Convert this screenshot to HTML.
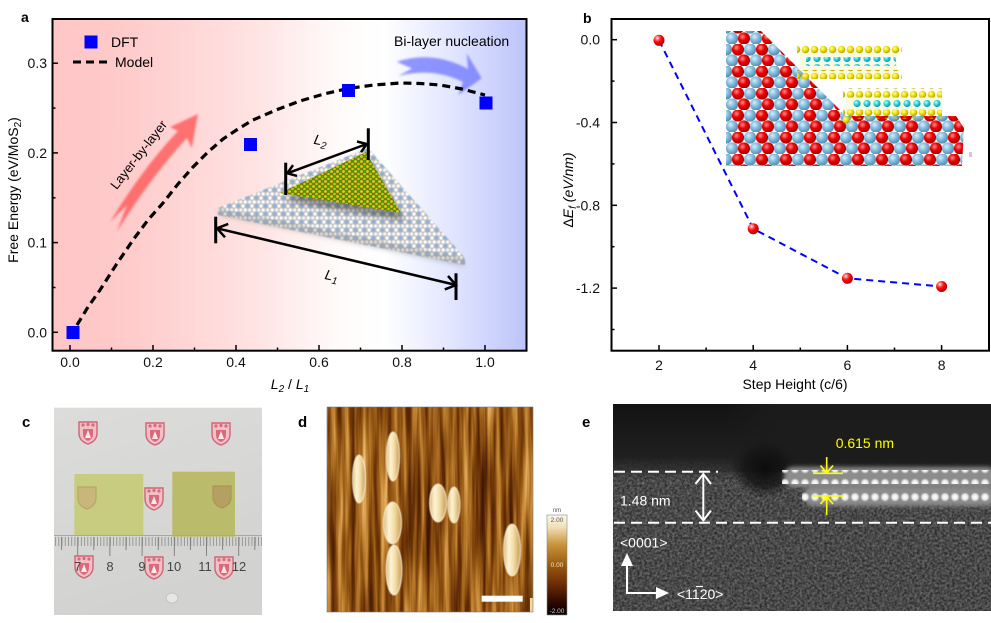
<!DOCTYPE html>
<html><head><meta charset="utf-8"><style>
html,body{margin:0;padding:0;background:#fff;}
svg{display:block;}
text{font-family:"Liberation Sans",Arial,sans-serif;}
</style></head><body>
<svg width="991" height="623" viewBox="0 0 991 623" xmlns="http://www.w3.org/2000/svg">
<defs>
 <linearGradient id="gA" x1="0" y1="0" x2="1" y2="0">
  <stop offset="0" stop-color="#ffc6c6"/>
  <stop offset="0.15" stop-color="#ffcaca"/>
  <stop offset="0.42" stop-color="#ffe2e2"/>
  <stop offset="0.6" stop-color="#fffafa"/>
  <stop offset="0.7" stop-color="#ffffff"/>
  <stop offset="0.84" stop-color="#e2e6ff"/>
  <stop offset="1" stop-color="#bcc4fb"/>
 </linearGradient>
 <radialGradient id="rs" cx="0.35" cy="0.3" r="0.7">
  <stop offset="0" stop-color="#ffffff"/><stop offset="0.18" stop-color="#ff8a8a"/>
  <stop offset="0.5" stop-color="#ff0a0a"/><stop offset="1" stop-color="#b00000"/>
 </radialGradient>
 <radialGradient id="rb" cx="0.38" cy="0.35" r="0.7">
  <stop offset="0" stop-color="#d8eefa"/><stop offset="0.45" stop-color="#86bde0"/><stop offset="1" stop-color="#4a86ac"/>
 </radialGradient>
 <radialGradient id="rr" cx="0.38" cy="0.35" r="0.7">
  <stop offset="0" stop-color="#ff8a8a"/><stop offset="0.45" stop-color="#e80000"/><stop offset="1" stop-color="#a00000"/>
 </radialGradient>
 <radialGradient id="ry" cx="0.38" cy="0.35" r="0.7">
  <stop offset="0" stop-color="#ffffa0"/><stop offset="0.5" stop-color="#eedc00"/><stop offset="1" stop-color="#a89800"/>
 </radialGradient>
 <radialGradient id="rc" cx="0.38" cy="0.35" r="0.7">
  <stop offset="0" stop-color="#c0ffff"/><stop offset="0.5" stop-color="#20d0e0"/><stop offset="1" stop-color="#108c98"/>
 </radialGradient>
 <radialGradient id="rw" cx="0.5" cy="0.5" r="0.5">
  <stop offset="0" stop-color="#ffffff"/><stop offset="0.55" stop-color="#eeeeee" stop-opacity="0.95"/><stop offset="1" stop-color="#cccccc" stop-opacity="0"/>
 </radialGradient>
 <radialGradient id="shadowE" cx="0.5" cy="0.5" r="0.5">
  <stop offset="0" stop-color="#0c0c0c"/><stop offset="0.6" stop-color="#141414" stop-opacity="0.8"/><stop offset="1" stop-color="#1a1a1a" stop-opacity="0"/>
 </radialGradient>
 <linearGradient id="cbar" x1="0" y1="0" x2="0" y2="1">
  <stop offset="0" stop-color="#fdf8ee"/><stop offset="0.12" stop-color="#f0e0b8"/>
  <stop offset="0.3" stop-color="#c8923a"/><stop offset="0.5" stop-color="#9a5a10"/>
  <stop offset="0.7" stop-color="#6a2a05"/><stop offset="0.88" stop-color="#2a0800"/><stop offset="1" stop-color="#000"/>
 </linearGradient>
 <linearGradient id="temTop" x1="0" y1="0" x2="0" y2="1">
  <stop offset="0" stop-color="#121212"/><stop offset="0.7" stop-color="#202020"/><stop offset="0.88" stop-color="#2a2a2a" stop-opacity="0.7"/><stop offset="1" stop-color="#333" stop-opacity="0"/>
 </linearGradient>
 <linearGradient id="temTopR" x1="0" y1="0" x2="1" y2="0">
  <stop offset="0" stop-color="#1c1c1c" stop-opacity="0"/><stop offset="0.2" stop-color="#1c1c1c" stop-opacity="0.9"/><stop offset="1" stop-color="#1c1c1c" stop-opacity="0.9"/>
 </linearGradient>
 <linearGradient id="photoBg" x1="0" y1="0" x2="0.3" y2="1">
  <stop offset="0" stop-color="#dcdcdb"/><stop offset="1" stop-color="#d2d2d0"/>
 </linearGradient>
 <linearGradient id="isl" x1="0" y1="0" x2="1" y2="0">
  <stop offset="0" stop-color="#d8b870"/><stop offset="0.3" stop-color="#fff4d8"/><stop offset="0.6" stop-color="#f2dca4"/><stop offset="1" stop-color="#c89a50"/>
 </linearGradient>

 <pattern id="subs" x="0" y="0" width="24" height="22" patternUnits="userSpaceOnUse">
  <circle cx="6" cy="5.5" r="6.1" fill="url(#rb)"/><circle cx="18" cy="5.5" r="6.1" fill="url(#rr)"/>
  <circle cx="0" cy="16.5" r="6.1" fill="url(#rr)"/><circle cx="12" cy="16.5" r="6.1" fill="url(#rb)"/><circle cx="24" cy="16.5" r="6.1" fill="url(#rr)"/>
 </pattern>
 <pattern id="yrow" x="0" y="0" width="9" height="9" patternUnits="userSpaceOnUse">
  <circle cx="4.5" cy="4.5" r="3.8" fill="url(#ry)"/>
 </pattern>
 <pattern id="crow" x="2" y="0" width="10" height="9" patternUnits="userSpaceOnUse">
  <circle cx="5" cy="4.5" r="3.6" fill="url(#rc)"/>
 </pattern>
 <pattern id="latW" x="0" y="0" width="9" height="8" patternUnits="userSpaceOnUse">
  <circle cx="2.2" cy="2" r="1.7" fill="#fff"/><circle cx="6.7" cy="2" r="1.7" fill="#f6f6f6"/>
  <circle cx="4.5" cy="6" r="1.5" fill="#7ab0f0"/><circle cx="0" cy="6" r="1.7" fill="#fff"/><circle cx="9" cy="6" r="1.7" fill="#fff"/>
 </pattern>
 <pattern id="latY" x="0" y="0" width="6" height="5" patternUnits="userSpaceOnUse">
  <circle cx="1.5" cy="1.5" r="1.4" fill="#e8d000"/><circle cx="4.5" cy="4" r="1.3" fill="#dcc400"/>
  <circle cx="4.5" cy="1.3" r="1.1" fill="#2ca82c"/>
 </pattern>
 <pattern id="ruler" x="77.7" y="0" width="3.22" height="20" patternUnits="userSpaceOnUse">
  <rect x="0" y="0" width="0.8" height="20" fill="#8a8a8a"/>
 </pattern>
 <pattern id="temdots" x="0" y="0" width="10" height="14" patternUnits="userSpaceOnUse">
  <circle cx="5" cy="7" r="5" fill="url(#rw)"/>
 </pattern>

 <filter id="b1" x="-20%" y="-20%" width="140%" height="140%"><feGaussianBlur stdDeviation="1"/></filter>
 <filter id="b06" x="-20%" y="-20%" width="140%" height="140%"><feGaussianBlur stdDeviation="0.6"/></filter>
 <filter id="b2" x="-30%" y="-30%" width="160%" height="160%"><feGaussianBlur stdDeviation="2"/></filter>
 <filter id="b3" x="-30%" y="-30%" width="160%" height="160%"><feGaussianBlur stdDeviation="3"/></filter>
 <filter id="afm" x="0" y="0" width="100%" height="100%" color-interpolation-filters="sRGB">
  <feTurbulence type="fractalNoise" baseFrequency="0.16 0.007" numOctaves="3" seed="7" result="n"/>
  <feColorMatrix in="n" type="matrix" values="1 0 0 0 0  1 0 0 0 0  1 0 0 0 0  0 0 0 0 1"/>
  <feComponentTransfer>
   <feFuncR type="table" tableValues="0.2 0.26 0.4 0.58 0.76 0.9 1"/>
   <feFuncG type="table" tableValues="0.05 0.1 0.19 0.34 0.52 0.7 0.9"/>
   <feFuncB type="table" tableValues="0 0 0.03 0.08 0.2 0.4 0.7"/>
  </feComponentTransfer>
 </filter>
 <filter id="tn" x="0" y="0" width="100%" height="100%" color-interpolation-filters="sRGB">
  <feTurbulence type="fractalNoise" baseFrequency="0.4" numOctaves="2" seed="5"/>
  <feColorMatrix type="matrix" values="0.5 0 0 0 0.04  0.5 0 0 0 0.04  0.5 0 0 0 0.04  0 0 0 0 1"/>
 </filter>
 <clipPath id="clipA"><rect x="52.5" y="19" width="474" height="331.7"/></clipPath>
 <clipPath id="clipE"><rect x="613" y="404" width="378" height="207"/></clipPath>
 <clipPath id="clipD"><rect x="327" y="407" width="206" height="205"/></clipPath>
</defs>

<rect x="0" y="0" width="991" height="623" fill="#fff"/>

<!-- ================= PANEL A ================= -->
<rect x="52.5" y="19" width="474" height="331.7" fill="url(#gA)"/>
<g clip-path="url(#clipA)">
 <path d="M198,114 L170,127 L178,131 Q143,168 110,222 L127,205 L116.7,232 Q150,178 187,138 L191.7,148.3 Z" fill="#ff5050" fill-opacity="0.75" filter="url(#b1)"/>
 <path d="M396.7,61.7 Q433,50 468,69 L466.7,53.3 L481.7,78.3 L458.3,95 L463,82 Q433,67 398.3,76 L412,68.5 Z" fill="#6c76ff" fill-opacity="0.75" filter="url(#b1)"/>
 <polygon points="218,214 368,154 466,266" fill="#777" opacity="0.45" filter="url(#b3)"/>
 <g filter="url(#b06)">
  <polygon points="218,208 465,258 465,265 218,215" fill="#a4a4a4"/>
  <polygon points="218,208 368,148 465,258" fill="#b6b6b6"/>
  <polygon points="218,208 368,148 465,258" fill="url(#latW)"/>
  <polygon points="218,208 465,258 465,265 218,215" fill="url(#latW)" opacity="0.6"/>
 </g>
 <polygon points="284,201 368,160 405,221" fill="#333" opacity="0.5" filter="url(#b3)"/>
 <polygon points="280,193 366,152 401,213" fill="#6e7c14"/>
 <polygon points="280,193 366,152 401,213" fill="url(#latY)"/>
</g>
<g stroke="#000" fill="none" stroke-linecap="butt">
 <line x1="285.7" y1="162.7" x2="285.7" y2="195" stroke-width="3"/>
 <line x1="368.3" y1="128.3" x2="368.3" y2="160" stroke-width="3"/>
 <line x1="287.3" y1="173.3" x2="366.7" y2="144" stroke-width="2.5"/>
 <polyline points="297,175.9 287.3,173.3 293,165.1" stroke-width="2.5"/>
 <polyline points="357,141.5 366.7,144 361,152.2" stroke-width="2.5"/>
 <line x1="215.7" y1="216.7" x2="215.7" y2="243.3" stroke-width="3"/>
 <line x1="456" y1="273.3" x2="456" y2="300" stroke-width="3"/>
 <line x1="217" y1="228.3" x2="456" y2="285" stroke-width="2.5"/>
 <polyline points="225,237.3 217,228.3 228.2,223.9" stroke-width="2.5"/>
 <polyline points="448,276 456,285 444.8,289.4" stroke-width="2.5"/>
</g>
<text x="314" y="145" font-size="14" font-style="italic" transform="rotate(12 320 140)">L<tspan font-size="10" dy="3">2</tspan></text>
<text x="325" y="280" font-size="14" font-style="italic" transform="rotate(12 330 275)">L<tspan font-size="10" dy="3">1</tspan></text>
<text x="139" y="159" font-size="13" text-anchor="middle" transform="rotate(-52 139 155)">Layer-by-layer</text>
<text x="394" y="46" font-size="14">Bi-layer nucleation</text>

<polyline points="77,325 88,307 100,290 116,265 133,240 148,220 163,203 178,184 193,167 208,152 223,139 238,129 253,120 276,110 300,101 324,94 348,88.5 374,85 400,83 420,83.5 440,85 462,89 485,95" fill="none" stroke="#000" stroke-width="3.2" stroke-dasharray="8 5"/>
<g fill="#0000ff">
 <rect x="66.5" y="326" width="13" height="13"/>
 <rect x="244" y="138" width="13" height="13"/>
 <rect x="342" y="84" width="13" height="13"/>
 <rect x="479.5" y="96.5" width="13" height="13"/>
 <rect x="84.5" y="35.5" width="13" height="13"/>
</g>
<line x1="73" y1="62" x2="111" y2="62" stroke="#000" stroke-width="3" stroke-dasharray="8 5"/>
<text x="111" y="47" font-size="14">DFT</text>
<text x="115" y="67" font-size="14">Model</text>

<rect x="52.5" y="19" width="474" height="331.7" fill="none" stroke="#000" stroke-width="2"/>
<g stroke="#000" stroke-width="1.5">
 <line x1="52.5" y1="332.3" x2="58" y2="332.3"/><line x1="52.5" y1="242.6" x2="58" y2="242.6"/>
 <line x1="52.5" y1="152.9" x2="58" y2="152.9"/><line x1="52.5" y1="63.2" x2="58" y2="63.2"/>
 <line x1="52.5" y1="287.5" x2="55.5" y2="287.5"/><line x1="52.5" y1="197.8" x2="55.5" y2="197.8"/>
 <line x1="52.5" y1="108.1" x2="55.5" y2="108.1"/>
 <line x1="70" y1="350.7" x2="70" y2="345"/><line x1="153" y1="350.7" x2="153" y2="345"/>
 <line x1="236" y1="350.7" x2="236" y2="345"/><line x1="319" y1="350.7" x2="319" y2="345"/>
 <line x1="402" y1="350.7" x2="402" y2="345"/><line x1="485" y1="350.7" x2="485" y2="345"/>
 <line x1="111.5" y1="350.7" x2="111.5" y2="347.5"/><line x1="194.5" y1="350.7" x2="194.5" y2="347.5"/>
 <line x1="277.5" y1="350.7" x2="277.5" y2="347.5"/><line x1="360.5" y1="350.7" x2="360.5" y2="347.5"/>
 <line x1="443.5" y1="350.7" x2="443.5" y2="347.5"/>
</g>
<g font-size="14" fill="#111" text-anchor="end">
 <text x="47" y="337.3">0.0</text><text x="47" y="247.6">0.1</text>
 <text x="47" y="157.9">0.2</text><text x="47" y="68.2">0.3</text>
</g>
<g font-size="14" fill="#111" text-anchor="middle">
 <text x="70" y="367">0.0</text><text x="153" y="367">0.2</text><text x="236" y="367">0.4</text>
 <text x="319" y="367">0.6</text><text x="402" y="367">0.8</text><text x="485" y="367">1.0</text>
</g>
<text x="290" y="389" font-size="14" text-anchor="middle" font-style="italic">L<tspan font-size="10" dy="3">2</tspan><tspan dy="-3" font-style="normal"> / </tspan>L<tspan font-size="10" dy="3">1</tspan></text>
<text x="0" y="0" font-size="14" text-anchor="middle" transform="translate(18 190) rotate(-90)">Free Energy (eV/MoS<tspan font-size="10" dy="3">2</tspan><tspan dy="-3">)</tspan></text>
<text x="21" y="22" font-size="14" font-weight="bold">a</text>

<!-- ================= PANEL B ================= -->
<polygon points="726,31 761,31 846,116 956,116 964,128 962,166 726,166" fill="url(#subs)"/>
<g>
 <polygon points="800,52 897,52 897,76 800,76" fill="#e8e070" opacity="0.2"/>
 <rect x="797" y="44.5" width="105" height="9" fill="url(#yrow)"/>
 <rect x="806" y="57" width="90" height="9" fill="url(#crow)"/>
 <rect x="797" y="70" width="105" height="9" fill="url(#yrow)"/>
</g>
<g>
 <polygon points="846,95 942,95 942,114 846,114" fill="#e8e070" opacity="0.2"/>
 <rect x="843" y="88.5" width="99" height="9" fill="url(#yrow)"/>
 <rect x="852" y="100" width="90" height="9" fill="url(#crow)"/>
 <rect x="843" y="109.5" width="99" height="9" fill="url(#yrow)"/>
 <circle cx="846" cy="120" r="3.6" fill="url(#ry)"/>
</g>
<rect x="969" y="152" width="3" height="5" fill="#d8a0e0" opacity="0.7"/>

<polyline points="659,40.3 753.2,228.7 847.4,278.3 941.6,286.5" fill="none" stroke="#0000ff" stroke-width="2" stroke-dasharray="7 5"/>
<g>
 <circle cx="659" cy="40.3" r="5.5" fill="url(#rs)"/>
 <circle cx="753.2" cy="228.7" r="5.5" fill="url(#rs)"/>
 <circle cx="847.4" cy="278.3" r="5.5" fill="url(#rs)"/>
 <circle cx="941.6" cy="286.5" r="5.5" fill="url(#rs)"/>
</g>
<rect x="611.5" y="19" width="377.5" height="331.7" fill="none" stroke="#000" stroke-width="2"/>
<g stroke="#000" stroke-width="1.5">
 <line x1="611.5" y1="39.7" x2="617" y2="39.7"/><line x1="611.5" y1="122.5" x2="617" y2="122.5"/>
 <line x1="611.5" y1="205.3" x2="617" y2="205.3"/><line x1="611.5" y1="288.1" x2="617" y2="288.1"/>
 <line x1="611.5" y1="81.1" x2="614.5" y2="81.1"/><line x1="611.5" y1="163.9" x2="614.5" y2="163.9"/>
 <line x1="611.5" y1="246.7" x2="614.5" y2="246.7"/><line x1="611.5" y1="329.5" x2="614.5" y2="329.5"/>
 <line x1="659" y1="350.7" x2="659" y2="345"/><line x1="753.2" y1="350.7" x2="753.2" y2="345"/>
 <line x1="847.4" y1="350.7" x2="847.4" y2="345"/><line x1="941.6" y1="350.7" x2="941.6" y2="345"/>
 <line x1="706.1" y1="350.7" x2="706.1" y2="347.5"/><line x1="800.3" y1="350.7" x2="800.3" y2="347.5"/>
 <line x1="894.5" y1="350.7" x2="894.5" y2="347.5"/>
</g>
<g font-size="14" fill="#111" text-anchor="end">
 <text x="600" y="44.7">0.0</text><text x="600" y="127.5">-0.4</text>
 <text x="600" y="210.3">-0.8</text><text x="600" y="293.1">-1.2</text>
</g>
<g font-size="14" fill="#111" text-anchor="middle">
 <text x="659" y="370">2</text><text x="753.2" y="370">4</text><text x="847.4" y="370">6</text><text x="941.6" y="370">8</text>
</g>
<text x="795" y="389" font-size="14" text-anchor="middle">Step Height (c/6)</text>
<text x="0" y="0" font-size="14" text-anchor="middle" font-style="italic" transform="translate(573 190) rotate(-90)"><tspan font-style="normal">Δ</tspan>E<tspan font-size="10" dy="3">f</tspan><tspan dy="-3"> (eV/nm)</tspan></text>
<text x="583" y="23" font-size="14" font-weight="bold">b</text>

<!-- ================= PANEL C ================= -->
<text x="22" y="427" font-size="15" font-weight="bold">c</text>
<rect x="54" y="407.7" width="208" height="207.3" fill="url(#photoBg)"/>
<g>
 <g transform="translate(88 432)"><path d="M-9,-10 L9,-10 L9,1 Q9,9 0,12 Q-9,9 -9,1 Z" fill="#f0c0c6" stroke="#d06474" stroke-width="1.4"/><path d="M-5,-3 L5,-3 L5,2 Q5,7 0,9 Q-5,7 -5,2 Z" fill="#d86a7a"/><path d="M0,-2 L3,6 L-3,6 Z" fill="#fbe8ea"/><circle cx="-5" cy="-7" r="1.6" fill="#d86a7a"/><circle cx="0" cy="-7.5" r="1.6" fill="#d86a7a"/><circle cx="5" cy="-7" r="1.6" fill="#d86a7a"/></g>
 <g transform="translate(155 433)"><path d="M-9,-10 L9,-10 L9,1 Q9,9 0,12 Q-9,9 -9,1 Z" fill="#f0c0c6" stroke="#d06474" stroke-width="1.4"/><path d="M-5,-3 L5,-3 L5,2 Q5,7 0,9 Q-5,7 -5,2 Z" fill="#d86a7a"/><path d="M0,-2 L3,6 L-3,6 Z" fill="#fbe8ea"/><circle cx="-5" cy="-7" r="1.6" fill="#d86a7a"/><circle cx="0" cy="-7.5" r="1.6" fill="#d86a7a"/><circle cx="5" cy="-7" r="1.6" fill="#d86a7a"/></g>
 <g transform="translate(221 433)"><path d="M-9,-10 L9,-10 L9,1 Q9,9 0,12 Q-9,9 -9,1 Z" fill="#f0c0c6" stroke="#d06474" stroke-width="1.4"/><path d="M-5,-3 L5,-3 L5,2 Q5,7 0,9 Q-5,7 -5,2 Z" fill="#d86a7a"/><path d="M0,-2 L3,6 L-3,6 Z" fill="#fbe8ea"/><circle cx="-5" cy="-7" r="1.6" fill="#d86a7a"/><circle cx="0" cy="-7.5" r="1.6" fill="#d86a7a"/><circle cx="5" cy="-7" r="1.6" fill="#d86a7a"/></g>
 <g transform="translate(154 498)"><path d="M-9,-10 L9,-10 L9,1 Q9,9 0,12 Q-9,9 -9,1 Z" fill="#f0c0c6" stroke="#d06474" stroke-width="1.4"/><path d="M-5,-3 L5,-3 L5,2 Q5,7 0,9 Q-5,7 -5,2 Z" fill="#d86a7a"/><path d="M0,-2 L3,6 L-3,6 Z" fill="#fbe8ea"/><circle cx="-5" cy="-7" r="1.6" fill="#d86a7a"/><circle cx="0" cy="-7.5" r="1.6" fill="#d86a7a"/><circle cx="5" cy="-7" r="1.6" fill="#d86a7a"/></g>
</g>
<rect x="74.3" y="474" width="69" height="61" fill="#c8cc80"/>
<rect x="172.3" y="471.7" width="62.7" height="65" fill="#bbbb6c"/>
<g opacity="0.35">
 <g transform="translate(87 497)"><path d="M-9,-10 L9,-10 L9,1 Q9,9 0,12 Q-9,9 -9,1 Z" fill="#c89070" stroke="#a06040" stroke-width="1.2"/></g>
 <g transform="translate(222 496)"><path d="M-9,-10 L9,-10 L9,1 Q9,9 0,12 Q-9,9 -9,1 Z" fill="#a87050" stroke="#905030" stroke-width="1.2"/></g>
</g>
<line x1="54" y1="535.5" x2="262" y2="535.5" stroke="#a8a8a8" stroke-width="1"/>
<rect x="54" y="537" width="208" height="9" fill="url(#ruler)"/>
<g stroke="#7a7a7a" stroke-width="0.9">
 <line x1="77.7" y1="537" x2="77.7" y2="556"/><line x1="109.9" y1="537" x2="109.9" y2="556"/>
 <line x1="142.1" y1="537" x2="142.1" y2="556"/><line x1="174.3" y1="537" x2="174.3" y2="556"/>
 <line x1="206.5" y1="537" x2="206.5" y2="556"/><line x1="238.7" y1="537" x2="238.7" y2="556"/>
 <line x1="93.8" y1="537" x2="93.8" y2="550"/><line x1="126" y1="537" x2="126" y2="550"/>
 <line x1="158.2" y1="537" x2="158.2" y2="550"/><line x1="190.4" y1="537" x2="190.4" y2="550"/>
 <line x1="222.6" y1="537" x2="222.6" y2="550"/><line x1="61.6" y1="537" x2="61.6" y2="550"/>
 <line x1="254.8" y1="537" x2="254.8" y2="550"/>
</g>
<g>
 <g transform="translate(84 566)"><path d="M-9,-10 L9,-10 L9,1 Q9,9 0,12 Q-9,9 -9,1 Z" fill="#f0c0c6" stroke="#d06474" stroke-width="1.4"/><path d="M-5,-3 L5,-3 L5,2 Q5,7 0,9 Q-5,7 -5,2 Z" fill="#d86a7a"/><path d="M0,-2 L3,6 L-3,6 Z" fill="#fbe8ea"/><circle cx="-5" cy="-7" r="1.6" fill="#d86a7a"/><circle cx="0" cy="-7.5" r="1.6" fill="#d86a7a"/><circle cx="5" cy="-7" r="1.6" fill="#d86a7a"/></g>
 <g transform="translate(154 567)"><path d="M-9,-10 L9,-10 L9,1 Q9,9 0,12 Q-9,9 -9,1 Z" fill="#f0c0c6" stroke="#d06474" stroke-width="1.4"/><path d="M-5,-3 L5,-3 L5,2 Q5,7 0,9 Q-5,7 -5,2 Z" fill="#d86a7a"/><path d="M0,-2 L3,6 L-3,6 Z" fill="#fbe8ea"/><circle cx="-5" cy="-7" r="1.6" fill="#d86a7a"/><circle cx="0" cy="-7.5" r="1.6" fill="#d86a7a"/><circle cx="5" cy="-7" r="1.6" fill="#d86a7a"/></g>
 <g transform="translate(224 567)"><path d="M-9,-10 L9,-10 L9,1 Q9,9 0,12 Q-9,9 -9,1 Z" fill="#f0c0c6" stroke="#d06474" stroke-width="1.4"/><path d="M-5,-3 L5,-3 L5,2 Q5,7 0,9 Q-5,7 -5,2 Z" fill="#d86a7a"/><path d="M0,-2 L3,6 L-3,6 Z" fill="#fbe8ea"/><circle cx="-5" cy="-7" r="1.6" fill="#d86a7a"/><circle cx="0" cy="-7.5" r="1.6" fill="#d86a7a"/><circle cx="5" cy="-7" r="1.6" fill="#d86a7a"/></g>
</g>
<g font-size="13" fill="#444" text-anchor="middle">
 <text x="77.7" y="571">7</text><text x="110" y="571">8</text><text x="142" y="571">9</text>
 <text x="174" y="571">10</text><text x="205" y="571">11</text><text x="239" y="571">12</text>
</g>
<ellipse cx="172" cy="598" rx="6" ry="5" fill="#e6e6e6" stroke="#bdbdbd" stroke-width="0.8"/>

<!-- ================= PANEL D ================= -->
<text x="298" y="427" font-size="15" font-weight="bold">d</text>
<g clip-path="url(#clipD)">
 <rect x="327" y="407" width="206" height="205" fill="#8c5010"/>
 <rect x="327" y="407" width="206" height="205" filter="url(#afm)"/>
 <g fill="url(#isl)" stroke="#fff8e4" stroke-width="0.8" filter="url(#b06)">
  <ellipse cx="359" cy="479" rx="6.5" ry="24"/>
  <ellipse cx="393" cy="456.5" rx="6.5" ry="24.5"/>
  <ellipse cx="438" cy="503" rx="8.5" ry="19"/>
  <ellipse cx="454" cy="505" rx="6" ry="18"/>
  <ellipse cx="392.5" cy="523" rx="9" ry="21"/>
  <ellipse cx="394" cy="570" rx="8" ry="25"/>
  <ellipse cx="512" cy="550" rx="8.5" ry="26"/>
 </g>
 <rect x="481.7" y="595.7" width="41" height="6" fill="#fff"/>
 <rect x="530" y="598" width="3" height="14" fill="#f0d8a0"/>
</g>
<rect x="327" y="407" width="206" height="205" fill="none" stroke="#777" stroke-width="0.6"/>
<rect x="547" y="515" width="20" height="100" fill="url(#cbar)" stroke="#888" stroke-width="0.6"/>
<text x="557" y="512" font-size="6" text-anchor="middle" fill="#555">nm</text>
<text x="557" y="522" font-size="6.5" text-anchor="middle" fill="#555">2.00</text>
<text x="557" y="567" font-size="6.5" text-anchor="middle" fill="#f4e4c8">0.00</text>
<text x="557" y="613" font-size="6.5" text-anchor="middle" fill="#ccc">-2.00</text>

<!-- ================= PANEL E ================= -->
<text x="582" y="427" font-size="15" font-weight="bold">e</text>
<g clip-path="url(#clipE)">
 <rect x="613" y="404" width="378" height="207" fill="#4a4a4a"/>
 <rect x="613" y="404" width="378" height="207" filter="url(#tn)" opacity="0.85"/>
 <rect x="613" y="404" width="378" height="76" fill="url(#temTop)"/>
 <rect x="720" y="404" width="271" height="68" fill="url(#temTopR)"/>
 <ellipse cx="765" cy="468" rx="34" ry="30" fill="url(#shadowE)"/>
 <rect x="784" y="467" width="212" height="20" rx="9" fill="#8c8c8c" filter="url(#b2)"/>
 <rect x="804" y="486" width="192" height="20" rx="9" fill="#8c8c8c" filter="url(#b2)"/>
 <rect x="782" y="470" width="212" height="14" fill="url(#temdots)"/>
 <rect x="802" y="489" width="192" height="14" fill="url(#temdots)"/>
</g>
<g stroke="#fff" stroke-width="2" fill="none">
 <line x1="614" y1="471.7" x2="718" y2="471.7" stroke-dasharray="11 6"/>
 <line x1="614" y1="522.7" x2="991" y2="522.7" stroke-dasharray="11 6"/>
 <line x1="703.3" y1="474" x2="703.3" y2="520.5"/>
 <polyline points="695.5,484 703.3,474 711,484"/>
 <polyline points="695.5,510.5 703.3,520.5 711,510.5"/>
</g>
<g stroke="#ffff00" stroke-width="1.6" fill="none">
 <line x1="813" y1="473.3" x2="843" y2="473.3"/>
 <line x1="813" y1="496" x2="843" y2="496"/>
 <line x1="826.7" y1="457" x2="826.7" y2="473"/>
 <polyline points="820.5,465.5 826.7,473 833,465.5"/>
 <line x1="826.7" y1="515" x2="826.7" y2="496.5"/>
 <polyline points="820.5,504 826.7,496.5 833,504"/>
</g>
<text x="835.7" y="448" font-size="14" fill="#ffff00">0.615 nm</text>
<text x="620" y="505.5" font-size="14" fill="#fff">1.48 nm</text>
<text x="620" y="547.5" font-size="14" fill="#fff">&lt;0001&gt;</text>
<g stroke="#fff" stroke-width="2" fill="none">
 <line x1="627" y1="593" x2="627" y2="563"/>
 <line x1="626" y1="593" x2="658" y2="593"/>
</g>
<polygon points="621,566 627,553 633,566" fill="#fff"/>
<polygon points="656,587 669,593 656,599" fill="#fff"/>
<text x="677" y="599" font-size="14" fill="#fff">&lt;1120&gt;</text>
<line x1="696" y1="586.5" x2="703" y2="586.5" stroke="#fff" stroke-width="1.2"/>
</svg>
</body></html>
